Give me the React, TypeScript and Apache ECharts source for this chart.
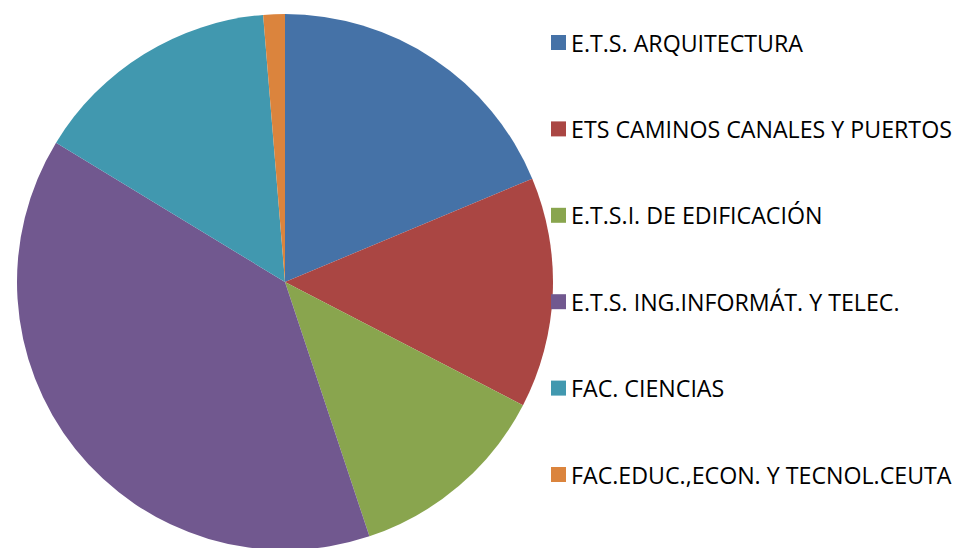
import React, { useEffect, useRef } from "react";
import * as echarts from "echarts";

const categories = [
  "E.T.S. ARQUITECTURA",
  "ETS CAMINOS CANALES Y PUERTOS",
  "E.T.S.I. DE EDIFICACIÓN",
  "E.T.S. ING.INFORMÁT. Y TELEC.",
  "FAC. CIENCIAS",
  "FAC.EDUC.,ECON. Y TECNOL.CEUTA",
];
const values = [187, 139, 123, 388, 150, 13];
const colors = ["#4572A7", "#AA4643", "#89A54E", "#71588F", "#4198AF", "#DB843D"];

export default function App() {
  const ref = useRef<HTMLDivElement>(null);
  useEffect(() => {
    const chart = echarts.init(ref.current!, undefined, { renderer: "svg" });
    chart.setOption({
      animation: false,
      color: colors,
      legend: {
        orient: "vertical",
        left: 551,
        top: 31,
        padding: 0,
        itemWidth: 15,
        itemHeight: 15,
        itemGap: 63.4,
        icon: "rect",
        textStyle: {
          fontFamily: "'Open Sans', sans-serif",
          fontSize: 23.2,
          color: "#000",
          padding: 0,
        },
        data: categories,
      },
      series: [
        {
          type: "pie",
          center: [285, 282],
          radius: 268,
          startAngle: 90,
          clockwise: true,
          label: { show: false },
          labelLine: { show: false },
          emphasis: { disabled: true },
          itemStyle: { borderWidth: 0 },
          data: categories.map((name, i) => ({ name, value: values[i] })),
        },
      ],
    });
    return () => chart.dispose();
  }, []);
  return <div ref={ref} style={{ width: 959, height: 548, position: "absolute", left: 0, top: 0 }} />;
}
